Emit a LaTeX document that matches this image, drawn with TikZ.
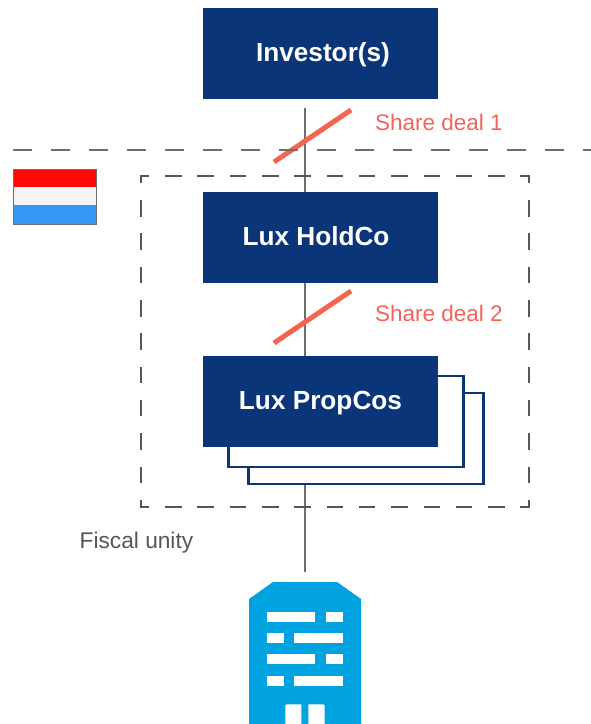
\documentclass[tikz,border=0pt]{standalone}
\usepackage{fontspec}
\setmainfont{Liberation Sans}
\definecolor{navy}{HTML}{0A3578}
\definecolor{deal}{HTML}{F3654F}
\definecolor{dealtxt}{HTML}{F4625A}
\definecolor{rule}{HTML}{6E6E6E}
\definecolor{unit}{HTML}{565656}
\definecolor{tower}{HTML}{00A3E0}
\definecolor{flagred}{HTML}{FF0808}
\definecolor{flagwhite}{HTML}{F4F4F6}
\definecolor{flagblue}{HTML}{3399F5}
\tikzset{
  company/.style={fill=navy, text=white, font=\fontsize{26.2}{30}\selectfont\bfseries,
    minimum width=235pt, minimum height=91pt, inner sep=0pt, outer sep=0pt,
    text height=20pt, text depth=4pt},
  shadowbox/.style={draw=navy, line width=2.2pt, fill=white,
    minimum width=235pt, minimum height=91pt, inner sep=0pt, outer sep=0pt},
  link/.style={draw=rule, line width=2.8pt},
  border/.style={draw=rule, line width=2.8pt, dash pattern=on 19pt off 19pt, dash phase=25pt},
  unitrow/.style={draw=unit, line width=2.8pt, line cap=rect, dash pattern=on 13.7pt off 18.6pt, dash phase=6.8pt},
  unitcol/.style={draw=unit, line width=2.8pt, line cap=rect, dash pattern=on 13.7pt off 19.6pt, dash phase=7.8pt},
  dealtext/.style={text=dealtxt, font=\fontsize{22.5}{28}\selectfont, inner sep=0pt, anchor=base west},
  band/.style={minimum width=83pt, inner sep=0pt, outer sep=0pt},
  pane/.style={fill=white, inner sep=0pt, outer sep=0pt, minimum height=10.2pt}
}
\newcommand{\mydeal}[4]
{
\coordinate (#1a) at (274,#2+52);
\coordinate (#1b) at (351,#2);
\draw[deal, line width=5pt] (#1a) -- (#1b);
\node[dealtext] (#1) at (375,#3) {#4};
}
\newcommand{\mypane}[3]
{
\node[pane, minimum width=#2-#1] at ({(#1+#2)/2},#3) {};
}
\begin{document}
\begin{tikzpicture}[x=1pt,y=-1pt]
  \useasboundingbox (0,0) rectangle (591,724);

  % links
  \coordinate (top) at (305,108);
  \coordinate (bottom) at (305,572);
  \draw[link] (top) -- (bottom);

  % stacked boxes
  \node[shadowbox] (back2) at (366,438.5) {};
  \node[shadowbox] (back1) at (346,421.5) {};

  % companies
  \node[company] (investor) at (320.5,53.5) {\kern5pt Investor(s)};
  \node[company] (holdco) at (320.5,237.5) {Lux HoldCo\kern9pt};
  \node[company] (propcos) at (320.5,401.5) {Lux PropCos};

  % share deals
  \mydeal{deal1}{110}{130.5}{Share deal 1}
  \mydeal{deal2}{291}{321}{Share deal 2}

  % borders
  \coordinate (borderl) at (0,150);
  \coordinate (borderr) at (591,150);
  \draw[border] (borderl) -- (borderr);
  \coordinate (unitnw) at (141,176);
  \coordinate (unitne) at (529,176);
  \coordinate (unitsw) at (141,507);
  \coordinate (unitse) at (529,507);
  \draw[unitrow] (unitnw) -- (unitne);
  \draw[unitrow] (unitsw) -- (unitse);
  \draw[unitcol] (unitnw) -- (unitsw);
  \draw[unitcol] (unitne) -- (unitse);
  \node[text=unit, font=\fontsize{22.7}{26}\selectfont, inner sep=0pt, anchor=base west] (fiscal) at (79.5,548) {Fiscal unity};

  % flag
  \node[band, fill=flagred, minimum height=18pt] (red) at (55,178) {};
  \node[band, fill=flagwhite, minimum height=18.5pt] (white) at (55,196) {};
  \node[band, fill=flagblue, minimum height=18.7pt] (blue) at (55,214.7) {};
  \draw[rule, line width=1pt] (red.north west) rectangle (blue.south east);

  % building
  \fill[tower] (249,724) -- (249,599) -- (273,582) -- (337,582) -- (361,599) -- (361,724) -- cycle;
  \foreach \y in {617,659}
  {
    \mypane{266.7}{315.3}{\y}
    \mypane{326}{343.3}{\y}
  }
  \foreach \y in {638,680.7}
  {
    \mypane{266.7}{284}{\y}
    \mypane{294.3}{343.3}{\y}
  }
  \fill[white] (285.3,724) -- (285.3,708.3) .. controls (285.3,704.3) .. (289.3,704.3) -- (301.3,704.3) -- (301.3,724) -- cycle;
  \fill[white] (308.3,724) -- (308.3,704.3) -- (320.7,704.3) .. controls (324.7,704.3) .. (324.7,708.3) -- (324.7,724) -- cycle;
\end{tikzpicture}
\end{document}
